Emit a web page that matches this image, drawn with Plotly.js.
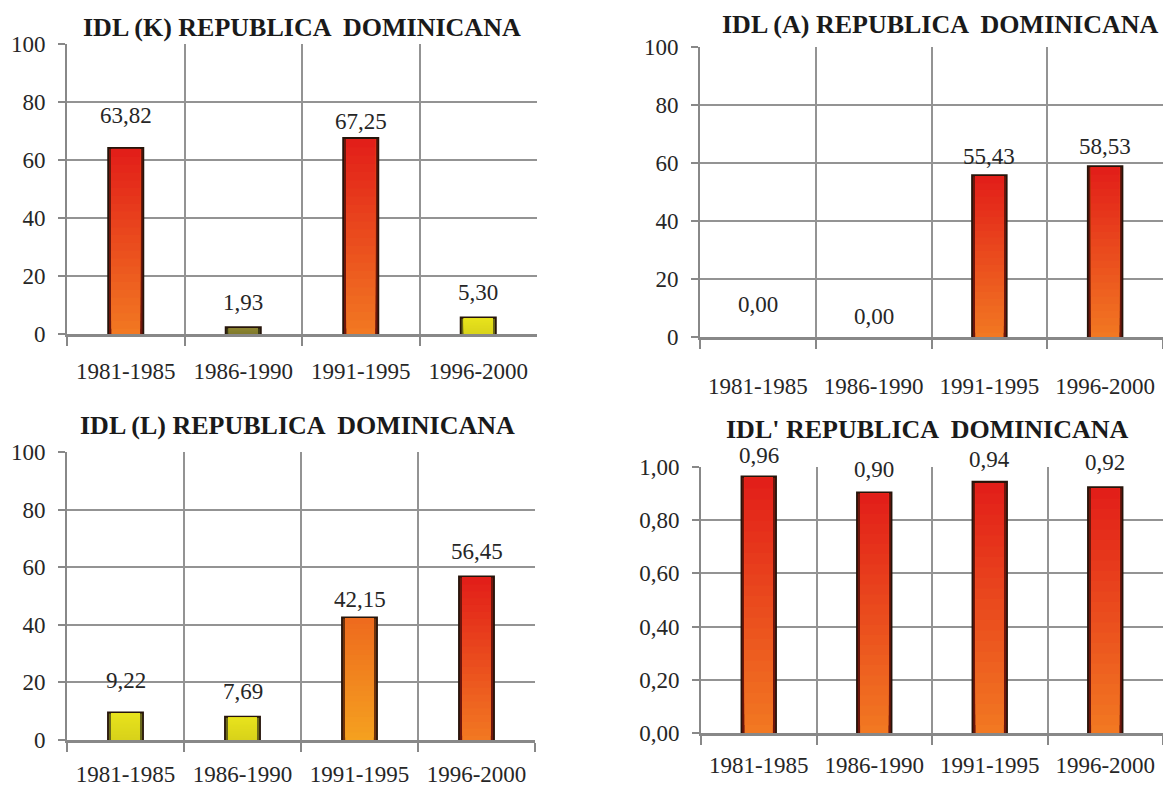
<!DOCTYPE html>
<html>
<head>
<meta charset="utf-8">
<script src="https://cdn.plot.ly/plotly-3.0.1.min.js"></script>
<style>
  html, body { margin: 0; padding: 0; background: #ffffff; }
  #chart { width: 1163px; height: 787px; }
</style>
</head>
<body>
<div id="chart"></div>
<script>
// ---------- data ----------
const categories = ['1981-1985', '1986-1990', '1991-1995', '1996-2000'];
const idlK = [63.82, 1.93, 67.25, 5.30];
const idlA = [0.00, 0.00, 55.43, 58.53];
const idlL = [9.22, 7.69, 42.15, 56.45];
const idlPrime = [0.96, 0.90, 0.94, 0.92];
const titleK = 'IDL (K) REPUBLICA  DOMINICANA';
const titleA = 'IDL (A) REPUBLICA  DOMINICANA';
const titleL = 'IDL (L) REPUBLICA  DOMINICANA';
const titlePrime = "IDL' REPUBLICA  DOMINICANA";

// ---------- styles ----------
const FILLS = {
  red:    {top: '#e21d19', bottom: '#f27a22', rim: '#6e160c'},
  orange: {top: '#ee6a1e', bottom: '#f5a21f', rim: '#6e320c'},
  yellow: {top: '#e8e31d', bottom: '#d6d01a', rim: '#6a681a'},
  olive:  {top: '#8c8432', bottom: '#7c762a', rim: '#3c3a16'}
};
const OUTER = '#26140a';
const N = 24;
const FONT = 'Liberation Serif';
const GRID = '#939393';
const AXIS = '#888888';

function hex2rgb(h) { return [1, 3, 5].map(i => parseInt(h.substr(i, 2), 16)); }
function lerp(c1, c2, t) {
  const a = hex2rgb(c1), b = hex2rgb(c2);
  return 'rgb(' + a.map((v, i) => Math.round(v + (b[i] - v) * t)).join(',') + ')';
}
function fmt(v, d) { return v.toFixed(d).replace('.', ','); }

const charts = [
  {vals: idlK, title: titleK, fills: ['red', 'olive', 'red', 'yellow'], shifts: [33, 26, 17, 26],
   xd: [67/1163, 537/1163], yd: [1 - 334/787, 1 - 44/787], range: [0, 100], dtick: 20, tf: '', e: 1.0, t: 0.7,
   tx: 302, ty: 27, xstand: 14},
  {vals: idlA, title: titleA, fills: ['red', 'red', 'red', 'red'], shifts: [33, 21, 20, 21],
   xd: [700/1163, 1], yd: [1 - 337/787, 1 - 47/787], range: [0, 100], dtick: 20, tf: '', e: 1.0, t: 0.7,
   tx: 940, ty: 25, xstand: 26},
  {vals: idlL, title: titleL, fills: ['yellow', 'yellow', 'orange', 'red'], shifts: [33, 26, 19, 26],
   xd: [67/1163, 535/1163], yd: [1 - 740/787, 1 - 452/787], range: [0, 100], dtick: 20, tf: '', e: 1.0, t: 0.7,
   tx: 297, ty: 425, xstand: 11},
  {vals: idlPrime, title: titlePrime, fills: ['red', 'red', 'red', 'red'], shifts: [22, 24, 23, 26],
   xd: [701/1163, 1], yd: [1 - 733/787, 1 - 467/787], range: [0, 1], dtick: 0.2, tf: '.2f', e: 0.011, t: 0.008,
   tx: 927, ty: 429, xstand: 9}
];

const traces = [];
const layout = {
  width: 1163, height: 787,
  margin: {l: 0, r: 0, t: 0, b: 0},
  paper_bgcolor: '#ffffff', plot_bgcolor: '#ffffff',
  separators: ',.',
  barmode: 'overlay',
  showlegend: false,
  hovermode: false,
  font: {family: FONT},
  annotations: []
};

charts.forEach((c, ci) => {
  const n = ci === 0 ? '' : String(ci + 1);
  const xa = 'x' + n, ya = 'y' + n;
  const common = {type: 'bar', x: categories, xaxis: xa, yaxis: ya, cliponaxis: false,
                  hoverinfo: 'skip', showlegend: false};
  // dark outer frame
  traces.push(Object.assign({}, common, {
    y: c.vals.map(v => v > 0 ? v + c.e + c.t : 0),
    base: c.vals.map(v => v > 0 ? -c.e : 0),
    width: 0.315, marker: {color: OUTER, line: {width: 0}}
  }));
  // bevel rim
  traces.push(Object.assign({}, common, {
    y: c.vals.map(v => v > 0 ? v + c.e : 0),
    base: c.vals.map(v => v > 0 ? -c.e : 0),
    width: 0.285, marker: {color: c.fills.map(f => FILLS[f].rim), line: {width: 0}}
  }));
  // gradient: each layer runs from its start up to the bar top, later layers paint over
  for (let k = 0; k < N; k++) {
    traces.push(Object.assign({}, common, {
      base: c.vals.map(v => v > 0 ? -c.e * 0.9 + (v + c.e * 0.9) * k / N : 0),
      y: c.vals.map(v => v > 0 ? (v + c.e * 0.9) * (N - k) / N : 0),
      width: 0.245,
      marker: {color: c.fills.map(f => lerp(FILLS[f].bottom, FILLS[f].top, (k + 0.5) / N)), line: {width: 0}}
    }));
  }
  const tickfont = {family: FONT, size: 23, color: '#262626'};
  layout['xaxis' + n] = {
    domain: c.xd, anchor: ya, type: 'category', range: [-0.5, 3.5],
    tickson: 'boundaries', ticks: 'outside', ticklen: 9, tickwidth: 2, tickcolor: AXIS,
    showgrid: true, gridcolor: GRID, gridwidth: 2,
    showline: true, linecolor: AXIS, linewidth: 3,
    tickfont: tickfont, ticklabelstandoff: c.xstand, fixedrange: true
  };
  layout['yaxis' + n] = {
    domain: c.yd, anchor: xa, range: c.range, dtick: c.dtick, tick0: 0, tickformat: c.tf,
    ticks: 'outside', ticklen: 7, tickwidth: 2, tickcolor: AXIS,
    showgrid: true, gridcolor: GRID, gridwidth: 2, zeroline: false,
    showline: true, linecolor: AXIS, linewidth: 2,
    tickfont: tickfont, ticklabelstandoff: 8, fixedrange: true
  };
  c.vals.forEach((v, i) => {
    layout.annotations.push({
      x: categories[i], y: v, xref: xa, yref: ya, text: fmt(v, 2), showarrow: false,
      yanchor: 'middle', xanchor: 'center', yshift: c.shifts[i],
      font: {family: FONT, size: 23, color: '#262626'}
    });
  });
  layout.annotations.push({
    x: c.tx / 1163, y: 1 - c.ty / 787, xref: 'paper', yref: 'paper', text: '<b>' + c.title + '</b>',
    showarrow: false, xanchor: 'center', yanchor: 'middle',
    font: {family: FONT, size: 26, color: '#1a1a1a'}
  });
});

Plotly.newPlot('chart', traces, layout, {staticPlot: true, displayModeBar: false});
</script>
</body>
</html>
